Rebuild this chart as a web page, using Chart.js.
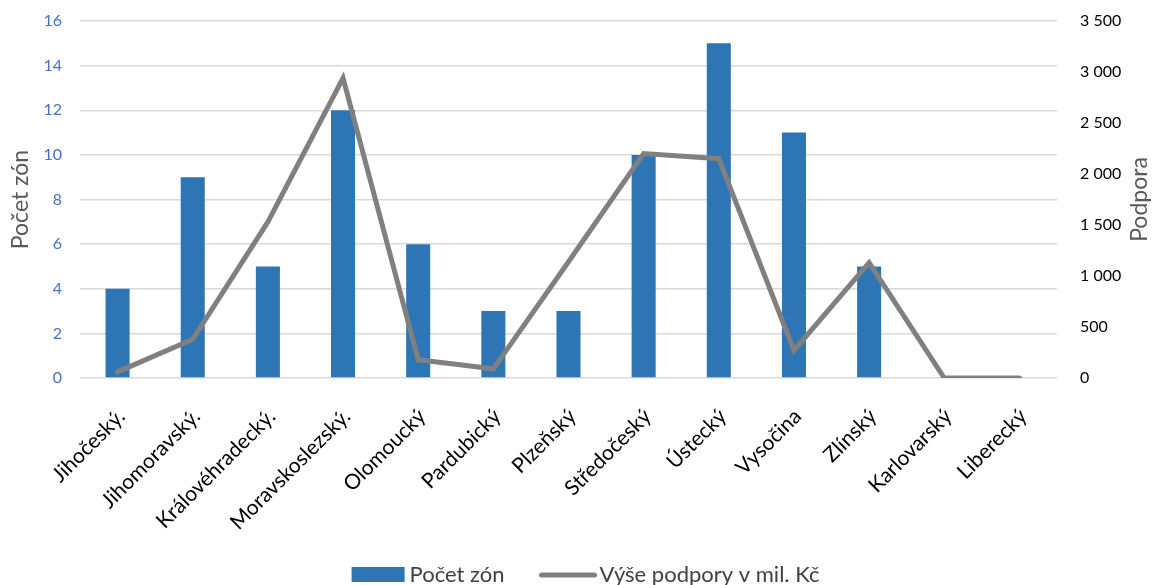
<!DOCTYPE html>
<html><head><meta charset="utf-8">
<script src="https://cdn.jsdelivr.net/npm/chart.js@4/dist/chart.umd.min.js"></script>
<style>html,body{margin:0;padding:0;background:#fff}#wrap{width:1153px;height:585px}</style>
</head><body><div id="wrap"><canvas id="c"></canvas></div>
<script>
const categories = ['Jihočeský.', 'Jihomoravský.', 'Královéhradecký.', 'Moravskoslezský.', 'Olomoucký', 'Pardubický', 'Plzeňský', 'Středočeský', 'Ústecký', 'Vysočina', 'Zlínský', 'Karlovarský', 'Liberecký'];
const pocetZon = [4, 9, 5, 12, 6, 3, 3, 10, 15, 11, 5, 0, 0];
const podpora = [60, 380, 1530, 2940, 180, 90, 1140, 2200, 2150, 270, 1130, 0, 0];
const leftTicks = [0, 2, 4, 6, 8, 10, 12, 14, 16];
const rightTicks = [0, 500, 1000, 1500, 2000, 2500, 3000, 3500];
const seriesNames = ['Počet zón', 'Výše podpory v mil. Kč'];
const FONT = 'Lato, "Open Sans", sans-serif';
const BLUE = '#2E75B6', GREY = '#808080';

const extras = {
  id: 'extras',
  afterDraw(chart) {
    const ctx = chart.ctx, a = chart.chartArea;
    ctx.save();
    ctx.translate(1140, (a.top + a.bottom) / 2);
    ctx.rotate(-Math.PI / 2);
    ctx.font = '23px ' + FONT;
    ctx.fillStyle = '#595959';
    ctx.textAlign = 'center';
    ctx.textBaseline = 'middle';
    ctx.fillText('Podpora', 0, 0);
    ctx.restore();
    ctx.save();
    ctx.font = '22px ' + FONT;
    ctx.textBaseline = 'middle';
    ctx.textAlign = 'left';
    const y = 575;
    const w1 = ctx.measureText(seriesNames[0]).width;
    const w2 = ctx.measureText(seriesNames[1]).width;
    const total = 53 + 5 + w1 + 35 + 57 + 3 + w2;
    let x = chart.width / 2 + 9 - total / 2;
    ctx.fillStyle = BLUE;
    ctx.fillRect(x, y - 8, 53, 15);
    x += 58;
    ctx.fillStyle = '#404040';
    ctx.fillText(seriesNames[0], x, y);
    x += w1 + 35;
    ctx.strokeStyle = GREY; ctx.lineWidth = 5; ctx.lineCap = 'round';
    ctx.beginPath(); ctx.moveTo(x + 2, y); ctx.lineTo(x + 55, y); ctx.stroke();
    x += 60;
    ctx.fillText(seriesNames[1], x, y);
    ctx.restore();
  }
};

function noVPad(s) { s.paddingTop = 0; s.paddingBottom = 0; }

new Chart(document.getElementById('c'), {
  data: {
    labels: categories,
    datasets: [
      { type: 'line', label: seriesNames[1], data: podpora, yAxisID: 'y1',
        borderColor: GREY, backgroundColor: GREY, borderWidth: 5, pointRadius: 0,
        tension: 0, order: 0, borderCapStyle: 'round', borderJoinStyle: 'miter' },
      { type: 'bar', label: seriesNames[0], data: pocetZon, yAxisID: 'y',
        backgroundColor: BLUE, barPercentage: 0.32, categoryPercentage: 1, order: 1 }
    ]
  },
  options: {
    responsive: true, maintainAspectRatio: false, animation: false,
    layout: { padding: { top: 21, right: 0, left: 0, bottom: 50 } },
    plugins: { tooltip: { enabled: false }, legend: { display: false } },
    scales: {
      x: {
        grid: { display: false }, border: { display: false },
        ticks: { font: { family: FONT, size: 21 }, color: '#000000', maxRotation: 45, minRotation: 45, padding: 18, labelOffset: 4, autoSkip: false },
        afterFit(s) { s.height = 157; noVPad(s); }
      },
      y: {
        position: 'left', min: 0, max: 16,
        afterBuildTicks(s) { s.ticks = leftTicks.map(v => ({ value: v })); },
        grid: { color: '#D9D9D9', lineWidth: 1.5, drawTicks: false }, border: { display: false },
        ticks: { font: { family: FONT, size: 16 }, color: '#4472C4', padding: 18 },
        title: { display: true, text: seriesNames[0], font: { family: FONT, size: 23 }, color: '#595959', padding: { top: 7, bottom: 0 } },
        afterFit(s) { s.width = 80; noVPad(s); }
      },
      y1: {
        position: 'right', min: 0, max: 3500,
        afterBuildTicks(s) { s.ticks = rightTicks.map(v => ({ value: v })); },
        grid: { display: false }, border: { display: false },
        ticks: { font: { family: FONT, size: 16 }, color: '#000000', padding: 15,
          callback: v => String(v).replace(/\B(?=(\d{3})+(?!\d))/g, '\u00a0') },
        afterFit(s) { s.width = 96; noVPad(s); }
      }
    }
  },
  plugins: [extras]
});
</script></body></html>
